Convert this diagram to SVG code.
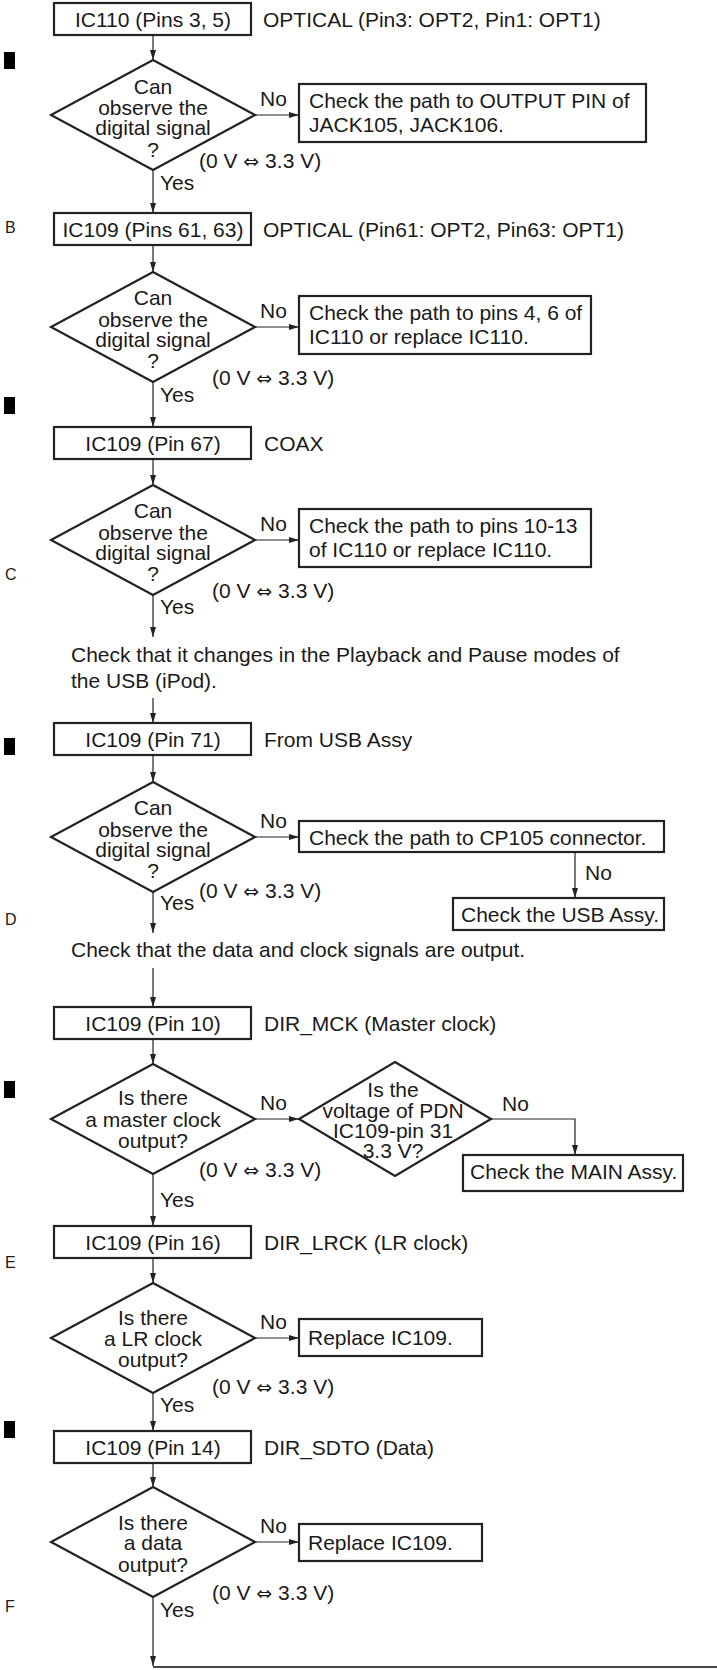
<svg xmlns="http://www.w3.org/2000/svg" width="717" height="1670" viewBox="0 0 717 1670">
<style>
text{font-family:"Liberation Sans","DejaVu Sans",Arial,sans-serif;font-size:21px;fill:#1a1a1a}
.c{text-anchor:middle}
.lt{font-size:16px}
.arr{font-family:"DejaVu Sans",sans-serif;font-size:19px}
.box{fill:#fff;stroke:#222;stroke-width:2.2}
.dia{fill:#fff;stroke:#222;stroke-width:2.2}
.ln{fill:none;stroke:#222;stroke-width:1.2}
.bar{fill:#000}
</style>
<defs>
<marker id="ah" viewBox="0 0 10 6" refX="10" refY="3" markerWidth="10" markerHeight="6" orient="auto" markerUnits="userSpaceOnUse"><path d="M0,0 L10,3 L0,6 z" fill="#222"/></marker>
</defs>
<rect x="0" y="0" width="717" height="1670" fill="#fff"/>

<g id="margin">
<rect class="bar" x="4" y="52" width="11" height="17"/>
<rect class="bar" x="4" y="397" width="11" height="17"/>
<rect class="bar" x="4" y="738" width="11" height="17"/>
<rect class="bar" x="4" y="1081" width="11" height="17"/>
<rect class="bar" x="4" y="1421" width="11" height="17"/>
<text class="lt" x="5" y="233">B</text>
<text class="lt" x="5" y="580">C</text>
<text class="lt" x="5" y="925">D</text>
<text class="lt" x="5" y="1268">E</text>
<text class="lt" x="5" y="1612">F</text>
</g>

<g id="connectors">
<path class="ln" d="M153,35 V60" marker-end="url(#ah)"/>
<path class="ln" d="M255,115 H299" marker-end="url(#ah)"/>
<path class="ln" d="M153,170 V213" marker-end="url(#ah)"/>
<path class="ln" d="M153,245 V272" marker-end="url(#ah)"/>
<path class="ln" d="M255,327 H299" marker-end="url(#ah)"/>
<path class="ln" d="M153,382 V427" marker-end="url(#ah)"/>
<path class="ln" d="M153,459 V485" marker-end="url(#ah)"/>
<path class="ln" d="M255,540 H299" marker-end="url(#ah)"/>
<path class="ln" d="M153,595 V637" marker-end="url(#ah)"/>
<path class="ln" d="M153,698 V723" marker-end="url(#ah)"/>
<path class="ln" d="M153,755 V782" marker-end="url(#ah)"/>
<path class="ln" d="M255,837 H299" marker-end="url(#ah)"/>
<path class="ln" d="M575,852 V898" marker-end="url(#ah)"/>
<path class="ln" d="M153,892 V933" marker-end="url(#ah)"/>
<path class="ln" d="M153,968 V1007" marker-end="url(#ah)"/>
<path class="ln" d="M153,1039 V1064" marker-end="url(#ah)"/>
<path class="ln" d="M255,1119 H299" marker-end="url(#ah)"/>
<path class="ln" d="M491,1119 H575 V1155" marker-end="url(#ah)"/>
<path class="ln" d="M153,1174 V1226" marker-end="url(#ah)"/>
<path class="ln" d="M153,1258 V1283" marker-end="url(#ah)"/>
<path class="ln" d="M255,1338 H299" marker-end="url(#ah)"/>
<path class="ln" d="M153,1393 V1431" marker-end="url(#ah)"/>
<path class="ln" d="M153,1463 V1487" marker-end="url(#ah)"/>
<path class="ln" d="M255,1542 H299" marker-end="url(#ah)"/>
<path class="ln" d="M153,1597 V1666" marker-end="url(#ah)"/>
<path d="M153,1667 H717" fill="none" stroke="#444" stroke-width="2"/>
<text x="260" y="106">No</text>
<text x="160" y="190">Yes</text>
<text x="199" y="168">(0 V <tspan class="arr">⇔</tspan> 3.3 V)</text>
<text x="260" y="318">No</text>
<text x="160" y="402">Yes</text>
<text x="212" y="385">(0 V <tspan class="arr">⇔</tspan> 3.3 V)</text>
<text x="260" y="531">No</text>
<text x="160" y="614">Yes</text>
<text x="212" y="598">(0 V <tspan class="arr">⇔</tspan> 3.3 V)</text>
<text x="260" y="828">No</text>
<text x="160" y="910">Yes</text>
<text x="199" y="898">(0 V <tspan class="arr">⇔</tspan> 3.3 V)</text>
<text x="585" y="880">No</text>
<text x="260" y="1110">No</text>
<text x="502" y="1111">No</text>
<text x="199" y="1177">(0 V <tspan class="arr">⇔</tspan> 3.3 V)</text>
<text x="160" y="1207">Yes</text>
<text x="260" y="1329">No</text>
<text x="212" y="1394">(0 V <tspan class="arr">⇔</tspan> 3.3 V)</text>
<text x="160" y="1412">Yes</text>
<text x="260" y="1533">No</text>
<text x="212" y="1600">(0 V <tspan class="arr">⇔</tspan> 3.3 V)</text>
<text x="160" y="1617">Yes</text>
</g>

<g id="n1"><rect class="box" x="54" y="3" width="197" height="32"/><text class="c" x="153" y="27">IC110 (Pins 3, 5)</text><text x="263" y="27">OPTICAL (Pin3: OPT2, Pin1: OPT1)</text></g>
<g id="d1"><polygon class="dia" points="153,60 255,115 153,170 51,115"/><text class="c" x="153" y="94">Can</text><text class="c" x="153" y="115">observe the</text><text class="c" x="153" y="135">digital signal</text><text class="c" x="153" y="157">?</text></g>
<g id="r1"><rect class="box" x="299" y="84" width="347" height="58"/><text x="309" y="108">Check the path to OUTPUT PIN of</text><text x="309" y="132">JACK105, JACK106.</text></g>

<g id="n2"><rect class="box" x="54" y="213" width="197" height="32"/><text class="c" x="153" y="237">IC109 (Pins 61, 63)</text><text x="263" y="237">OPTICAL (Pin61: OPT2, Pin63: OPT1)</text></g>
<g id="d2"><polygon class="dia" points="153,272 255,327 153,382 51,327"/><text class="c" x="153" y="305">Can</text><text class="c" x="153" y="327">observe the</text><text class="c" x="153" y="347">digital signal</text><text class="c" x="153" y="368">?</text></g>
<g id="r2"><rect class="box" x="299" y="296" width="292" height="58"/><text x="309" y="320">Check the path to pins 4, 6 of</text><text x="309" y="344">IC110 or replace IC110.</text></g>

<g id="n3"><rect class="box" x="54" y="427" width="197" height="32"/><text class="c" x="153" y="451">IC109 (Pin 67)</text><text x="264" y="451">COAX</text></g>
<g id="d3"><polygon class="dia" points="153,485 255,540 153,595 51,540"/><text class="c" x="153" y="518">Can</text><text class="c" x="153" y="540">observe the</text><text class="c" x="153" y="560">digital signal</text><text class="c" x="153" y="581">?</text></g>
<g id="r3"><rect class="box" x="299" y="509" width="292" height="58"/><text x="309" y="533">Check the path to pins 10-13</text><text x="309" y="557">of IC110 or replace IC110.</text></g>

<g id="note1"><text x="71" y="662">Check that it changes in the Playback and Pause modes of</text><text x="71" y="688">the USB (iPod).</text></g>

<g id="n4"><rect class="box" x="54" y="723" width="197" height="32"/><text class="c" x="153" y="747">IC109 (Pin 71)</text><text x="264" y="747">From USB Assy</text></g>
<g id="d4"><polygon class="dia" points="153,782 255,837 153,892 51,837"/><text class="c" x="153" y="815">Can</text><text class="c" x="153" y="837">observe the</text><text class="c" x="153" y="857">digital signal</text><text class="c" x="153" y="878">?</text></g>
<g id="r4"><rect class="box" x="299" y="821" width="365" height="31"/><text x="309" y="845">Check the path to CP105 connector.</text></g>
<g id="r5"><rect class="box" x="453" y="898" width="211" height="32"/><text x="461" y="922">Check the USB Assy.</text></g>

<g id="note2"><text x="71" y="957">Check that the data and clock signals are output.</text></g>

<g id="n5"><rect class="box" x="54" y="1007" width="197" height="32"/><text class="c" x="153" y="1031">IC109 (Pin 10)</text><text x="264" y="1031">DIR_MCK (Master clock)</text></g>
<g id="d5"><polygon class="dia" points="153,1064 255,1119 153,1174 51,1119"/><text class="c" x="153" y="1105">Is there</text><text class="c" x="153" y="1127">a master clock</text><text class="c" x="153" y="1148">output?</text></g>
<g id="d6"><polygon class="dia" points="395,1062 491,1119 395,1176 299,1119"/><text class="c" x="393" y="1097">Is the</text><text class="c" x="393" y="1118">voltage of PDN</text><text class="c" x="393" y="1138">IC109-pin 31</text><text class="c" x="393" y="1158">3.3 V?</text></g>
<g id="r6"><rect class="box" x="463" y="1155" width="220" height="36"/><text x="470" y="1179">Check the MAIN Assy.</text></g>

<g id="n6"><rect class="box" x="54" y="1226" width="197" height="32"/><text class="c" x="153" y="1250">IC109 (Pin 16)</text><text x="264" y="1250">DIR_LRCK (LR clock)</text></g>
<g id="d7"><polygon class="dia" points="153,1283 255,1338 153,1393 51,1338"/><text class="c" x="153" y="1325">Is there</text><text class="c" x="153" y="1346">a LR clock</text><text class="c" x="153" y="1367">output?</text></g>
<g id="r7"><rect class="box" x="299" y="1319" width="183" height="37"/><text x="308" y="1345">Replace IC109.</text></g>

<g id="n7"><rect class="box" x="54" y="1431" width="197" height="32"/><text class="c" x="153" y="1455">IC109 (Pin 14)</text><text x="264" y="1455">DIR_SDTO (Data)</text></g>
<g id="d8"><polygon class="dia" points="153,1487 255,1542 153,1597 51,1542"/><text class="c" x="153" y="1530">Is there</text><text class="c" x="153" y="1550">a data</text><text class="c" x="153" y="1572">output?</text></g>
<g id="r8"><rect class="box" x="299" y="1524" width="183" height="37"/><text x="308" y="1550">Replace IC109.</text></g>
</svg>
